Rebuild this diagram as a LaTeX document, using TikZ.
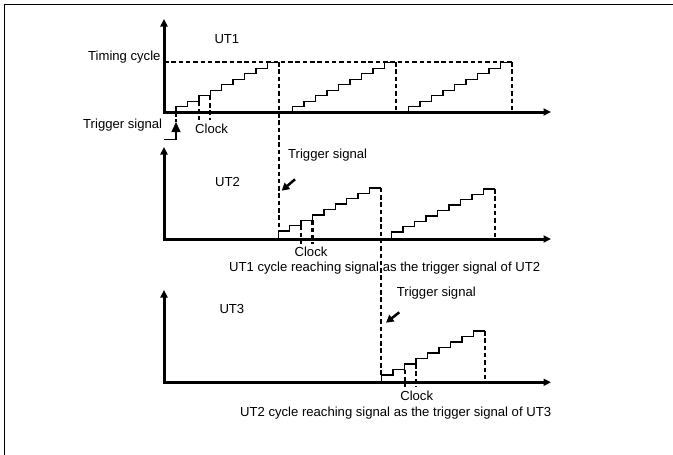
\documentclass[tikz,border=0pt]{standalone}
\usepackage{fontspec}
\setmainfont{Liberation Sans}
\usetikzlibrary{arrows.meta}
\newcommand{\stairs}[5]{% x0, ybase, y of first tread, rise, tread width
  \draw[stair] (#1,#2) -- (#1,#3) \foreach \k in {1,...,8}{ -- ++(#5,0) -- ++(0,-#4)} -- ++(#5,0);}
\begin{document}
\begin{tikzpicture}[x=1pt,y=-1pt,
  axis/.style={line width=3pt,{Triangle[length=7.5pt,width=7pt]}-{Triangle[length=7.5pt,width=7pt]}},
  stair/.style={line width=1.4pt},
  dline/.style={line width=2.2pt,dash pattern=on 4.5pt off 2.8pt},
  border/.style={line width=1.2pt},
  lbl/.style={inner sep=0pt,font=\fontsize{13.1}{15}\selectfont},
  trig/.style={line width=2.5pt,-{Triangle[length=7.5pt,width=8pt]}},
  trigup/.style={line width=1.4pt,-{Triangle[length=10pt,width=9pt]}}
]
\useasboundingbox (0,0) rectangle (673,455);
% frame
\draw[border] (4.5,455) -- (4.5,4.5) -- (673,4.5);

% ---------- UT1 ----------
\draw[axis] (164,19) -- (164,112) -- (551,112);
\draw[dline] (164,62) -- (512,62);
\stairs{176}{112}{106.7}{5.5}{11.4}
\stairs{292.3}{112}{106.7}{5.5}{11.5}
\stairs{408.3}{112}{106.7}{5.5}{11.5}
\draw[dline] (279,62) -- (279,231);
\draw[dline] (395.7,62) -- (395.7,112);
\draw[dline] (511.7,62) -- (511.7,112);
\draw[dline] (176,112) -- (176,122);
\draw[dline] (198.8,101.2) -- (198.8,120);
\draw[dline] (210.2,95.7) -- (210.2,120);
\coordinate (t1s) at (164,139.5);
\coordinate (t1e) at (176,122);
\draw[trigup] (t1s) -| (t1e);
\node[lbl,anchor=west] (ut1) at (214.3,39.3) {UT1};
\node[lbl,anchor=east] (tc) at (160.7,56.7) {Timing cycle};
\node[lbl,anchor=east] (ts1) at (162.3,125) {Trigger signal};
\node[lbl,anchor=west] (ck1) at (195,129) {Clock};

% ---------- UT2 ----------
\draw[axis] (164,147) -- (164,239) -- (551,239);
\stairs{278.3}{239}{231}{5.4}{11.38}
\stairs{391.7}{239}{232}{5.4}{11.48}
\draw[dline] (301.1,225.6) -- (301.1,244);
\draw[dline] (312.4,220.2) -- (312.4,244);
\draw[dline] (380.7,187.8) -- (380.7,375);
\draw[dline] (495,189) -- (495,239);
\coordinate (a2s) at (295,179.3);
\coordinate (a2e) at (281.7,190.7);
\draw[trig] (a2s) -- (a2e);
\node[lbl,anchor=west] (ts2) at (288,155) {Trigger signal};
\node[lbl,anchor=west] (ut2) at (215,181.7) {UT2};
\node[lbl] (ck2) at (311,252.3) {Clock};
\node[lbl,anchor=west] (c2) at (229,268.3) {UT1 cycle reaching signal as the trigger signal of UT2};

% ---------- UT3 ----------
\draw[axis] (164,290) -- (164,382.3) -- (551,382.3);
\stairs{381.7}{382.3}{375}{5.5}{11.48}
\draw[dline] (404.7,369.5) -- (404.7,387);
\draw[dline] (416.1,364) -- (416.1,387);
\draw[dline] (485,331) -- (485,382.3);
\coordinate (a3s) at (399.3,312.3);
\coordinate (a3e) at (386,322.7);
\draw[trig] (a3s) -- (a3e);
\node[lbl,anchor=west] (ts3) at (396.7,293.3) {Trigger signal};
\node[lbl,anchor=west] (ut3) at (219.3,309.3) {UT3};
\node[lbl] (ck3) at (416.7,395.7) {Clock};
\node[lbl,anchor=west] (c3) at (240,412.7) {UT2 cycle reaching signal as the trigger signal of UT3};
\end{tikzpicture}
\end{document}
